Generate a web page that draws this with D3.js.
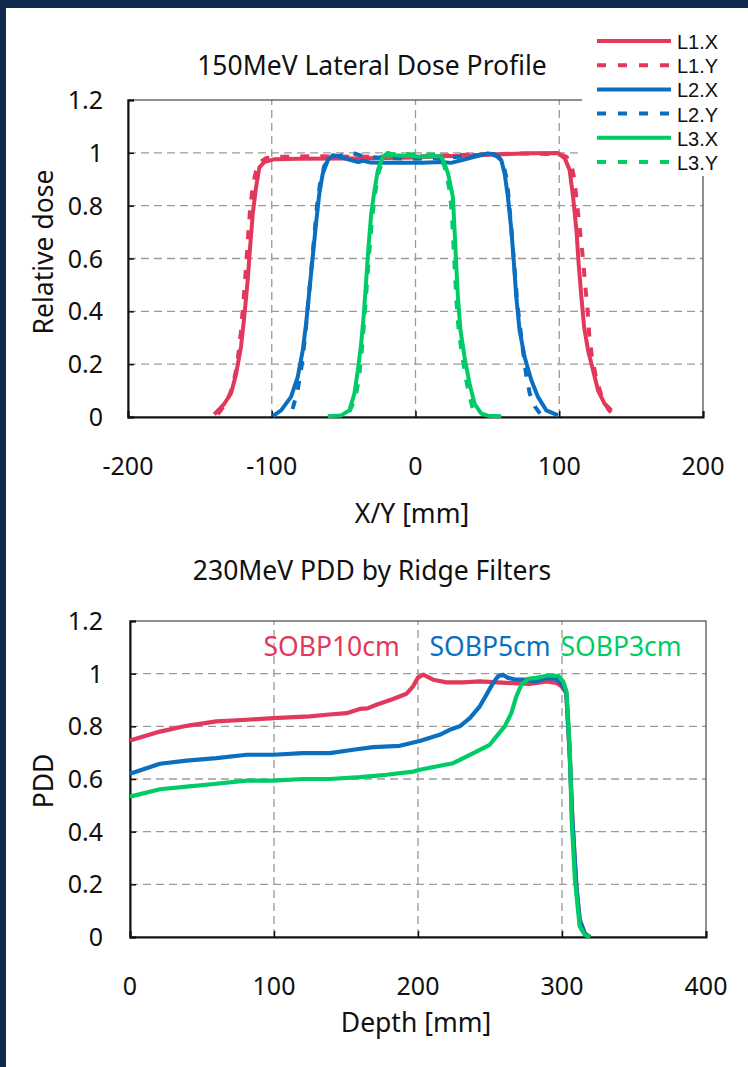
<!doctype html>
<html>
<head>
<meta charset="utf-8">
<script src="https://d3js.org/d3.v7.min.js"></script>
<style>
body {margin: 0; background: white;}
svg text {font-family: "Noto Sans", sans-serif; fill: #111;}
</style>
</head>
<body>
<svg width="748" height="1067" class="slide"></svg>
<script>

// lateral profiles, x/y in mm vs relative dose
var l1x = [[-140,0.01],[-133,0.05],[-128.3,0.09],[-124.9,0.16],[-121.4,0.265],[-119.1,0.38],[-116.7,0.52],[-115.1,0.64],[-113.2,0.77],[-110.9,0.87],[-108.6,0.945],[-105.2,0.965],[-98,0.976],[-80,0.978],[-50,0.979],[-20,0.98],[0,0.982],[18,0.987],[40,0.99],[60,0.995],[80,0.998],[99,0.999],[103.8,0.98],[107.2,0.935],[109.6,0.835],[111.9,0.71],[113.5,0.58],[115.4,0.455],[117.3,0.34],[120,0.253],[123.5,0.177],[127,0.1],[131.6,0.05],[136.3,0.025]];
var l1y = [[-137.5,0.01],[-131,0.06],[-127,0.12],[-124,0.2],[-121.5,0.32],[-119.5,0.45],[-118,0.56],[-116.5,0.68],[-115,0.79],[-113,0.88],[-111,0.93],[-108,0.965],[-104,0.98],[-95,0.985],[-70,0.987],[-40,0.985],[-10,0.985],[20,0.99],[50,0.995],[80,0.998],[100,0.995],[105,0.985],[108.5,0.955],[110.5,0.9],[112.5,0.8],[114.5,0.7],[116.5,0.6],[118,0.5],[119.5,0.42],[121,0.3],[123,0.22],[126,0.14],[130,0.07],[134,0.03],[137,0.01]];
var l2x = [[-99.3,0.003],[-93.5,0.025],[-86.6,0.076],[-81.9,0.152],[-78.4,0.253],[-76.1,0.354],[-73.8,0.48],[-71.5,0.606],[-69.2,0.732],[-66.9,0.846],[-64.5,0.922],[-61,0.972],[-57.5,0.991],[-54,0.987],[-47,0.975],[-40,0.965],[-36.6,0.97],[-30.8,0.963],[-24,0.962],[-10,0.962],[5,0.962],[17.8,0.965],[24.8,0.962],[31.8,0.972],[41,0.985],[50.4,0.998],[55,0.995],[59.7,0.972],[62,0.922],[64.3,0.833],[66.7,0.707],[68.5,0.58],[70.1,0.455],[72.4,0.328],[75.9,0.227],[80.6,0.139],[85.2,0.076],[91,0.025],[99.2,0.006]];
var l2y = [[-85.5,0.03],[-82,0.1],[-79,0.2],[-76.5,0.32],[-74.5,0.44],[-72.5,0.56],[-70.5,0.68],[-68.5,0.8],[-66.5,0.88],[-63.5,0.95],[-59,0.985],[-52,0.99],[-44,1.0],[-35,0.985],[-20,0.98],[0,0.978],[20,0.98],[40,0.99],[52,0.995],[58,0.985],[61,0.96],[63.5,0.9],[65,0.82],[66.5,0.72],[68,0.62],[69.5,0.52],[71,0.42],[73,0.33],[75,0.24],[77,0.16],[79.4,0.09],[83,0.04],[87,0.01]];
var l3x = [[-61,0.003],[-51.7,0.006],[-46,0.025],[-42.5,0.089],[-40.1,0.177],[-37.8,0.278],[-35.9,0.392],[-34.3,0.518],[-32.7,0.644],[-30.8,0.77],[-28.5,0.859],[-26.2,0.934],[-22.7,0.985],[-19.2,1.0],[-14.6,0.991],[-5.4,0.988],[4,0.985],[12,0.987],[17.8,0.987],[20.2,0.96],[22.6,0.922],[26,0.833],[27.2,0.707],[28.3,0.58],[29.5,0.455],[31.3,0.328],[34.1,0.227],[37.6,0.126],[41.1,0.05],[45.8,0.013],[50.4,0.005],[59.7,0.003]];
var l3y = [[-46,0.02],[-42,0.07],[-39.5,0.14],[-37.5,0.24],[-36,0.34],[-34.5,0.45],[-33,0.56],[-31.5,0.67],[-30,0.76],[-28,0.85],[-25.5,0.93],[-22,0.98],[-15,0.995],[0,0.995],[15,0.993],[19,0.97],[21.5,0.92],[24,0.85],[25.5,0.75],[26.5,0.64],[27.5,0.54],[28.5,0.44],[30,0.33],[32,0.25],[34.5,0.16],[37.5,0.08],[40,0.03],[42,0.01]];

// depth dose, depth in mm vs PDD
var sobp10 = [[0,0.746],[20.8,0.78],[39.3,0.802],[60,0.819],[81,0.825],[99.5,0.831],[125,0.838],[136.5,0.844],[150.4,0.85],[159.6,0.866],[165,0.868],[171.2,0.882],[182.7,0.904],[192,0.924],[196.6,0.952],[200,0.985],[203.6,0.996],[210.5,0.977],[219.8,0.967],[231.3,0.967],[242.9,0.971],[261.4,0.965],[277.6,0.961],[289.2,0.971],[296.1,0.965],[299.6,0.952],[303,0.927],[305.3,0.7],[307.2,0.445],[310,0.19],[312.3,0.065],[315.8,0.014],[319.2,0]];
var sobp5 = [[0,0.62],[20.8,0.658],[39.3,0.67],[60,0.679],[81,0.692],[99.5,0.692],[120,0.698],[138.8,0.698],[155,0.711],[168.8,0.721],[187.3,0.726],[201.2,0.744],[215,0.768],[222,0.787],[229,0.8],[236,0.831],[242.9,0.876],[247.5,0.92],[252.2,0.965],[255.6,0.99],[259,0.996],[262.5,0.984],[268.3,0.977],[275.2,0.977],[282.2,0.971],[289.2,0.984],[296,0.98],[300,0.96],[303,0.925],[305.3,0.7],[307.2,0.445],[310,0.19],[312.3,0.065],[315.8,0.014],[319.2,0]];
var sobp3 = [[0,0.533],[20.8,0.561],[39.3,0.571],[60,0.582],[81,0.594],[99.5,0.594],[120,0.6],[138.8,0.6],[159.6,0.607],[178,0.616],[196.6,0.628],[201.2,0.635],[224.4,0.66],[236,0.692],[249.8,0.73],[260.2,0.8],[264.8,0.85],[268.3,0.914],[271.8,0.958],[276.4,0.98],[282.2,0.984],[289.2,0.992],[297.3,0.992],[300.8,0.971],[303.1,0.933],[304.3,0.825],[305.5,0.698],[306.7,0.445],[309,0.217],[312.3,0.04],[315.8,0.008],[319.7,0]];

var lateralNames = ["L1.X","L1.Y","L2.X","L2.Y","L3.X","L3.Y"];
var pddNames = ["SOBP10cm","SOBP5cm","SOBP3cm"];
var xTicksTop = [-200,-100,0,100,200];
var xTicksBottom = [0,100,200,300,400];
var yTicks = [0,0.2,0.4,0.6,0.8,1,1.2];

var red = "#e2385b", blue = "#0a6fc0", green = "#00cc66";

var svg = d3.select(".slide");

// slide frame (top and left edge)
svg.append("rect").attr("x",0).attr("y",0).attr("width",748).attr("height",8).style("fill","#0f2a4e");
svg.append("rect").attr("x",0).attr("y",0).attr("width",6).attr("height",1067).style("fill","#0f2a4e");

function drawFrame(x, y, xTicks, gridX) {
  var g = svg.append("g");
  var x0 = x.range()[0], x1 = x.range()[1], y0 = y.range()[0], y1 = y.range()[1];
  // dashed grid
  g.selectAll(".hg").data([0.2,0.4,0.6,0.8,1]).enter().append("line")
    .attr("x1",x0).attr("x2",x1).attr("y1",function(d){return y(d);}).attr("y2",function(d){return y(d);})
    .style("stroke","#9a9a9a").style("stroke-width",1.3).style("stroke-dasharray","8,5");
  g.selectAll(".vg").data(gridX).enter().append("line")
    .attr("x1",function(d){return x(d);}).attr("x2",function(d){return x(d);}).attr("y1",y0).attr("y2",y1)
    .style("stroke","#9a9a9a").style("stroke-width",1.3).style("stroke-dasharray","8,5");
  // border
  g.append("rect").attr("x",x0).attr("y",y1).attr("width",x1-x0).attr("height",y0-y1)
    .style("fill","none").style("stroke","#555").style("stroke-width",1.3);
  // axes with inside ticks
  g.append("g").attr("transform","translate(0,"+y0+")")
    .call(d3.axisTop(x).tickValues(xTicks).tickSize(6).tickFormat(""))
    .call(function(a){ a.select(".domain").style("stroke","#111").style("stroke-width",2); a.selectAll("line").style("stroke","#111").style("stroke-width",1.5); });
  g.append("g").attr("transform","translate("+x0+",0)")
    .call(d3.axisRight(y).tickValues(yTicks).tickSize(6).tickFormat(""))
    .call(function(a){ a.select(".domain").style("stroke","#111").style("stroke-width",2); a.selectAll("line").style("stroke","#111").style("stroke-width",1.5); });
  // tick labels
  g.selectAll(".xl").data(xTicks).enter().append("text")
    .attr("x",function(d){return x(d);}).attr("y",y0+58)
    .attr("text-anchor","middle").style("font-size","25px").text(function(d){return d;});
  g.selectAll(".yl").data(yTicks).enter().append("text")
    .attr("x",103).attr("y",function(d){return y(d)+9;})
    .attr("text-anchor","end").style("font-size","25px").text(function(d){return d;});
}

var line = function(x, y) { return d3.line().x(function(d){return x(d[0]);}).y(function(d){return y(d[1]);}); };

/////////////////////////// top chart
var xa = d3.scaleLinear().domain([-200,200]).range([128,703]);
var ya = d3.scaleLinear().domain([0,1.2]).range([417,100]);
drawFrame(xa, ya, xTicksTop, [-100,0,100]);

var lateral = [l1x,l1y,l2x,l2y,l3x,l3y];
var lateralColor = [red,red,blue,blue,green,green];
svg.append("g").selectAll("path").data(lateral).enter().append("path")
  .attr("d", line(xa,ya))
  .style("fill","none")
  .style("stroke",function(d,i){return lateralColor[i];})
  .style("stroke-width",4)
  .style("stroke-linejoin","round")
  .style("stroke-dasharray",function(d,i){return i%2 ? "9,11" : null;});

svg.append("text").attr("x",372).attr("y",75).attr("text-anchor","middle").style("font-size","26.5px").text("150MeV Lateral Dose Profile");
svg.append("text").attr("x",412).attr("y",523).attr("text-anchor","middle").style("font-size","26.5px").text("X/Y [mm]");
svg.append("text").attr("transform","translate(53,252) rotate(-90)").attr("text-anchor","middle").style("font-size","26.5px").text("Relative dose");

// legend
var lg = svg.append("g");
lg.append("rect").attr("x",582).attr("y",26).attr("width",166).attr("height",150).style("fill","white");
lg.selectAll("line").data(lateralNames).enter().append("line")
  .attr("x1",597).attr("x2",671)
  .attr("y1",function(d,i){return 41+i*24.2;}).attr("y2",function(d,i){return 41+i*24.2;})
  .style("stroke",function(d,i){return lateralColor[i];})
  .style("stroke-width",4)
  .style("stroke-dasharray",function(d,i){return i%2 ? "9,12" : null;});
lg.selectAll("text").data(lateralNames).enter().append("text")
  .attr("x",677).attr("y",function(d,i){return 49+i*24.2;})
  .style("font-family","'Liberation Sans', sans-serif")
  .style("font-size","20px").text(function(d){return d;});

/////////////////////////// bottom chart
var xb = d3.scaleLinear().domain([0,400]).range([130,706]);
var yb = d3.scaleLinear().domain([0,1.2]).range([937,621]);
drawFrame(xb, yb, xTicksBottom, [100,200,300]);

var pdd = [sobp10,sobp5,sobp3];
var pddColor = [red,blue,green];
svg.append("g").selectAll("path").data(pdd).enter().append("path")
  .attr("d", line(xb,yb))
  .style("fill","none")
  .style("stroke",function(d,i){return pddColor[i];})
  .style("stroke-width",4.2)
  .style("stroke-linejoin","round");

var pddLabelX = [140,250,341];
svg.append("g").selectAll("text").data(pddNames).enter().append("text")
  .attr("x",function(d,i){return xb(pddLabelX[i]);}).attr("y",656)
  .attr("text-anchor","middle")
  .style("font-size","26.5px")
  .style("fill",function(d,i){return pddColor[i];})
  .text(function(d){return d;});

svg.append("text").attr("x",372).attr("y",580).attr("text-anchor","middle").style("font-size","26.5px").text("230MeV PDD by Ridge Filters");
svg.append("text").attr("x",416).attr("y",1032).attr("text-anchor","middle").style("font-size","26.5px").text("Depth [mm]");
svg.append("text").attr("transform","translate(53,781) rotate(-90)").attr("text-anchor","middle").style("font-size","26.5px").text("PDD");

</script>
</body>
</html>
